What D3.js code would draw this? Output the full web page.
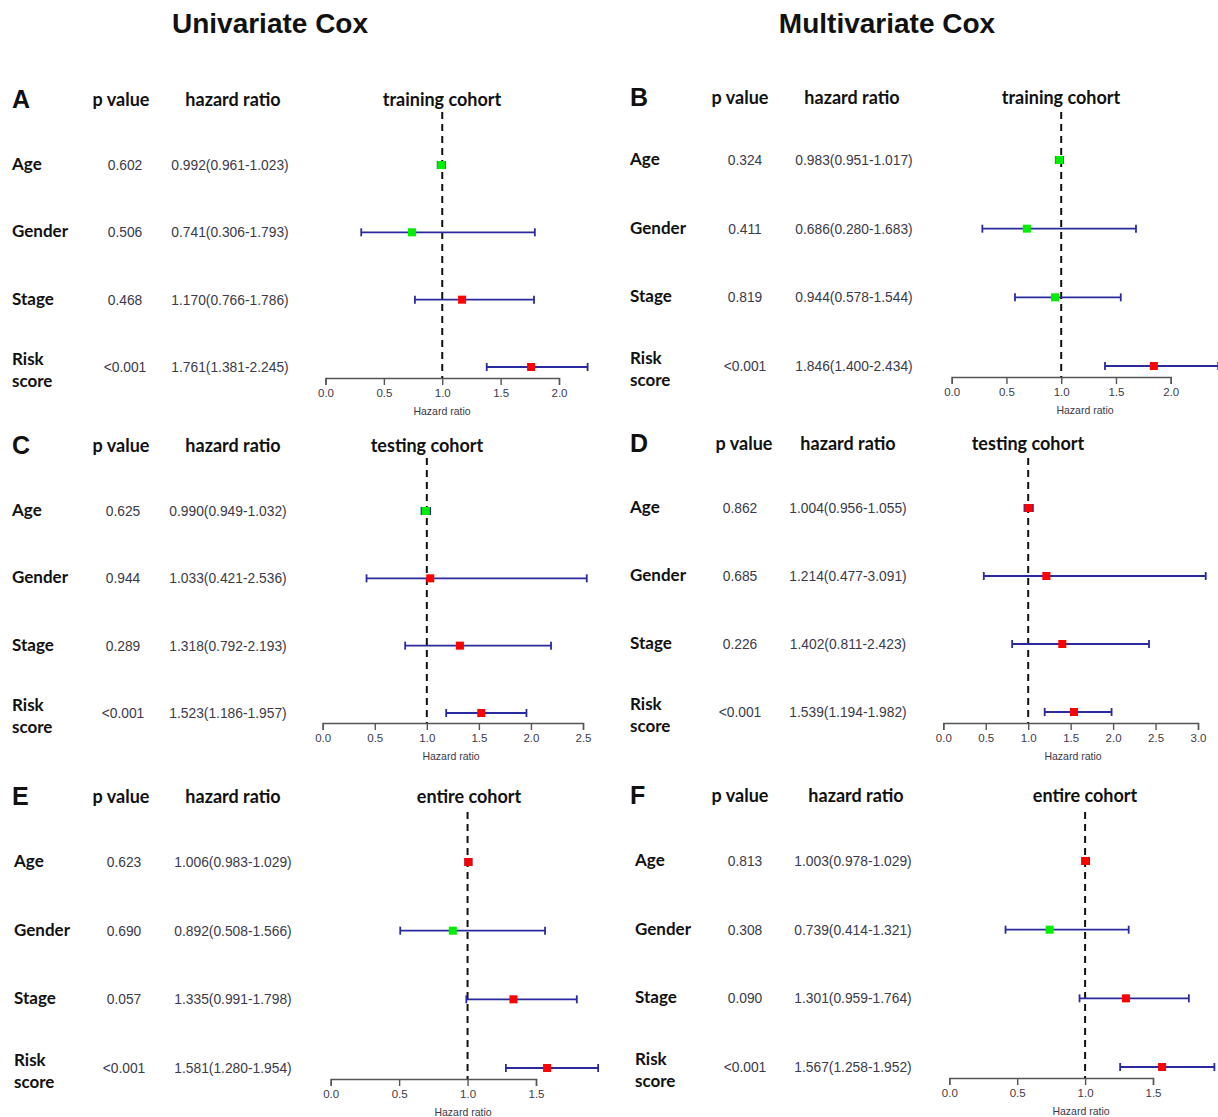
<!DOCTYPE html>
<html lang="en">
<head>
<meta charset="UTF-8">
<title>Univariate and Multivariate Cox</title>
<style>
  body { margin: 0; background: #fff; }
  .lab { font-family: Lato, "Open Sans", sans-serif; font-weight: 700; fill: #111; }
  .num { font-family: "Liberation Sans", Arial, sans-serif; fill: #3a3a4a; }
</style>
</head>
<body>
<div id="chart"></div>
<script src="https://d3js.org/d3.v7.min.js"></script>
<script>
// ---- data ----
const variables = ["Age", "Gender", "Stage", "Risk score"];

const uniTrainP  = ["0.602", "0.506", "0.468", "<0.001"];
const uniTrainHR = [0.992, 0.741, 1.170, 1.761];
const uniTrainLo = [0.961, 0.306, 0.766, 1.381];
const uniTrainHi = [1.023, 1.793, 1.786, 2.245];

const mulTrainP  = ["0.324", "0.411", "0.819", "<0.001"];
const mulTrainHR = [0.983, 0.686, 0.944, 1.846];
const mulTrainLo = [0.951, 0.280, 0.578, 1.400];
const mulTrainHi = [1.017, 1.683, 1.544, 2.434];

const uniTestP  = ["0.625", "0.944", "0.289", "<0.001"];
const uniTestHR = [0.990, 1.033, 1.318, 1.523];
const uniTestLo = [0.949, 0.421, 0.792, 1.186];
const uniTestHi = [1.032, 2.536, 2.193, 1.957];

const mulTestP  = ["0.862", "0.685", "0.226", "<0.001"];
const mulTestHR = [1.004, 1.214, 1.402, 1.539];
const mulTestLo = [0.956, 0.477, 0.811, 1.194];
const mulTestHi = [1.055, 3.091, 2.423, 1.982];

const uniAllP  = ["0.623", "0.690", "0.057", "<0.001"];
const uniAllHR = [1.006, 0.892, 1.335, 1.581];
const uniAllLo = [0.983, 0.508, 0.991, 1.280];
const uniAllHi = [1.029, 1.566, 1.798, 1.954];

const mulAllP  = ["0.813", "0.308", "0.090", "<0.001"];
const mulAllHR = [1.003, 0.739, 1.301, 1.567];
const mulAllLo = [0.978, 0.414, 0.959, 1.258];
const mulAllHi = [1.029, 1.321, 1.764, 1.952];

const axisMaxA = 2, axisMaxB = 2, axisMaxC = 2.5, axisMaxD = 3, axisMaxE = 1.5, axisMaxF = 1.5;

const width = 1218, height = 1117;
const svg = d3.select("#chart").append("svg")
  .attr("width", width).attr("height", height);

// column titles
svg.append("text").attr("class", "lab").attr("x", 270).attr("y", 33)
  .attr("text-anchor", "middle").style("font-size", "28px")
  .style("font-family", "'Liberation Sans', Arial, sans-serif").text("Univariate Cox");
svg.append("text").attr("class", "lab").attr("x", 887).attr("y", 33)
  .attr("text-anchor", "middle").style("font-size", "28px")
  .style("font-family", "'Liberation Sans', Arial, sans-serif").text("Multivariate Cox");

const panels = [
  { letter: "A", cohort: "training cohort", p: uniTrainP, hr: uniTrainHR, lo: uniTrainLo, hi: uniTrainHi, max: axisMaxA,
    lx: 12, headY: 106, pHead: 121, hrHead: 233, coh: 442, rows: [165, 367], pX: 125, hrX: 230,
    x0: 325.5, x1: 559, axisY: 378, dashTop: 112, htX: 442 },
  { letter: "B", cohort: "training cohort", p: mulTrainP, hr: mulTrainHR, lo: mulTrainLo, hi: mulTrainHi, max: axisMaxB,
    lx: 630, headY: 104, pHead: 740, hrHead: 852, coh: 1061, rows: [160, 366], pX: 745, hrX: 854,
    x0: 951.7, x1: 1170.7, axisY: 377, dashTop: 112, htX: 1085 },
  { letter: "C", cohort: "testing cohort", p: uniTestP, hr: uniTestHR, lo: uniTestLo, hi: uniTestHi, max: axisMaxC,
    lx: 12, headY: 452, pHead: 121, hrHead: 233, coh: 427, rows: [511, 713], pX: 123, hrX: 228,
    x0: 322.7, x1: 583, axisY: 723, dashTop: 458, htX: 451 },
  { letter: "D", cohort: "testing cohort", p: mulTestP, hr: mulTestHR, lo: mulTestLo, hi: mulTestHi, max: axisMaxD,
    lx: 630, headY: 450, pHead: 744, hrHead: 848, coh: 1028, rows: [508, 712], pX: 740, hrX: 848,
    x0: 943.3, x1: 1198, axisY: 723, dashTop: 458, htX: 1073 },
  { letter: "E", cohort: "entire cohort", p: uniAllP, hr: uniAllHR, lo: uniAllLo, hi: uniAllHi, max: axisMaxE,
    lx: 14, headY: 803, pHead: 121, hrHead: 233, coh: 469, rows: [862, 1068], pX: 124, hrX: 233,
    x0: 330.7, x1: 536, axisY: 1079, dashTop: 812, htX: 463 },
  { letter: "F", cohort: "entire cohort", p: mulAllP, hr: mulAllHR, lo: mulAllLo, hi: mulAllHi, max: axisMaxF,
    lx: 635, headY: 802, pHead: 740, hrHead: 856, coh: 1085, rows: [861, 1067], pX: 745, hrX: 853,
    x0: 949.3, x1: 1153, axisY: 1078, dashTop: 812, htX: 1081 }
];

const fmt = d3.format(".3f");

panels.forEach(pn => {
  const g = svg.append("g");
  const x = d3.scaleLinear().domain([0, pn.max]).range([pn.x0, pn.x1]);
  const y = d3.scalePoint().domain(variables).range(pn.rows);
  const left = "ACE".includes(pn.letter);

  // headers
  g.append("text").attr("class", "lab").attr("x", left ? 12 : 630)
    .attr("y", pn.headY + 2).style("font-size", "25px").style("font-family", "'Liberation Sans', Arial, sans-serif")
    .text(pn.letter);
  g.append("text").attr("class", "lab").attr("x", pn.pHead).attr("y", pn.headY)
    .attr("text-anchor", "middle").style("font-size", "18px").text("p value");
  g.append("text").attr("class", "lab").attr("x", pn.hrHead).attr("y", pn.headY)
    .attr("text-anchor", "middle").style("font-size", "18px").text("hazard ratio");
  g.append("text").attr("class", "lab").attr("x", pn.coh).attr("y", pn.headY)
    .attr("text-anchor", "middle").style("font-size", "18px").text(pn.cohort);

  // row labels and text columns
  variables.forEach((v, i) => {
    const yy = y(v);
    if (v === "Risk score") {
      g.append("text").attr("class", "lab").attr("x", pn.lx).attr("y", yy - 2)
        .style("font-size", "17px").text("Risk");
      g.append("text").attr("class", "lab").attr("x", pn.lx).attr("y", yy + 20)
        .style("font-size", "17px").text("score");
    } else {
      g.append("text").attr("class", "lab").attr("x", pn.lx).attr("y", yy + 5)
        .style("font-size", "17px").text(v);
    }
    g.append("text").attr("class", "num").attr("x", pn.pX).attr("y", yy + 5)
      .attr("text-anchor", "middle").style("font-size", "13.8px").text(pn.p[i]);
    g.append("text").attr("class", "num").attr("x", pn.hrX).attr("y", yy + 5)
      .attr("text-anchor", "middle").style("font-size", "13.8px")
      .text(`${fmt(pn.hr[i])}(${fmt(pn.lo[i])}-${fmt(pn.hi[i])})`);
  });

  // axis
  const ax = g.append("g").attr("transform", `translate(0,${pn.axisY})`)
    .call(d3.axisBottom(x).tickValues(d3.range(0, pn.max + 0.01, 0.5)).tickFormat(d3.format(".1f"))
      .tickSizeOuter(0).tickSize(7).tickPadding(4));
  ax.select(".domain").attr("stroke", "#555").attr("stroke-width", 1.4);
  ax.selectAll(".tick line").attr("stroke", "#555").attr("stroke-width", 1.4);
  ax.selectAll(".tick text").attr("fill", "#3a3a4a").style("font-size", "11.5px")
    .style("font-family", "'Liberation Sans', Arial, sans-serif");
  g.append("text").attr("class", "num").attr("x", pn.htX).attr("y", pn.axisY + 37)
    .attr("text-anchor", "middle").style("font-size", "10.5px").text("Hazard ratio");

  // reference line at 1
  g.append("line").attr("x1", x(1)).attr("x2", x(1)).attr("y1", pn.dashTop).attr("y2", pn.axisY)
    .attr("stroke", "#111").attr("stroke-width", 2).attr("stroke-dasharray", "7,5");

  // CI lines
  variables.forEach((v, i) => {
    const yy = y(v);
    g.append("line").attr("x1", x(pn.lo[i])).attr("x2", x(pn.hi[i])).attr("y1", yy).attr("y2", yy)
      .attr("stroke", "#2a2aa0").attr("stroke-width", 1.8);
    [pn.lo[i], pn.hi[i]].forEach(e => {
      g.append("line").attr("x1", x(e)).attr("x2", x(e)).attr("y1", yy - 4).attr("y2", yy + 4)
        .attr("stroke", "#2a2aa0").attr("stroke-width", 1.8);
    });
    g.append("rect").attr("x", x(pn.hr[i]) - 4).attr("y", yy - 4).attr("width", 8).attr("height", 8)
      .attr("fill", pn.hr[i] < 1 ? "#00ee00" : "#ff0000");
  });
});
</script>
</body>
</html>
